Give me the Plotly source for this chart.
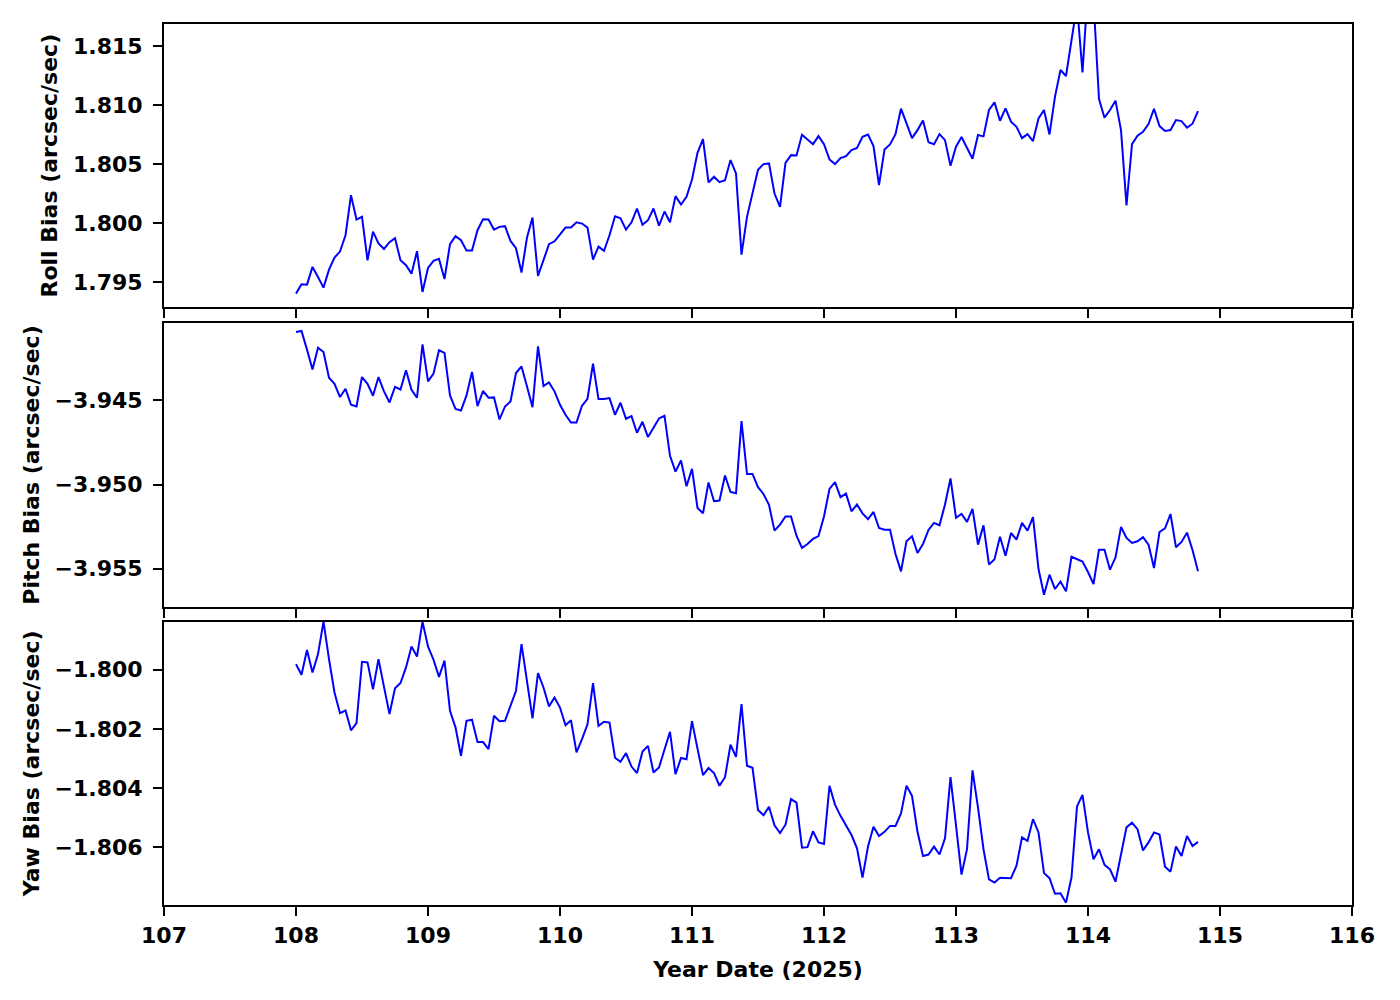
import plotly.graph_objects as go
from plotly.subplots import make_subplots

# Sampling: hourly values starting at day 108.0 (Year Date 2025)
start_day = 108.0
samples_per_day = 24

roll_bias = [
    1.79404, 1.79483, 1.79480, 1.79630, 1.79545, 1.79455, 1.79607, 1.79709, 1.79760, 1.79898,
    1.80237, 1.80031, 1.80054, 1.79686, 1.79929, 1.79828, 1.79782, 1.79839, 1.79873, 1.79686,
    1.79644, 1.79573, 1.79763, 1.79418, 1.79621, 1.79681, 1.79698, 1.79528, 1.79822, 1.79890,
    1.79856, 1.79768, 1.79768, 1.79941, 1.80034, 1.80031, 1.79946, 1.79969, 1.79975, 1.79850,
    1.79788, 1.79582, 1.79879, 1.80048, 1.79554, 1.79692, 1.79822, 1.79847, 1.79910, 1.79963,
    1.79963, 1.80008, 1.79997, 1.79963, 1.79692, 1.79802, 1.79766, 1.79898, 1.80059, 1.80042,
    1.79946, 1.80008, 1.80124,
    1.79986, 1.80025, 1.80124, 1.79980, 1.80099, 1.80008, 1.80229, 1.80158, 1.80223, 1.80370,
    1.80596, 1.80712, 1.80345, 1.80393, 1.80347, 1.80364, 1.80534, 1.80421, 1.79734, 1.80054,
    1.80266, 1.80452, 1.80500, 1.80506, 1.80251, 1.80138, 1.80511, 1.80576, 1.80573, 1.80749,
    1.80709, 1.80669, 1.80737, 1.80669, 1.80540, 1.80500, 1.80551, 1.80568, 1.80619, 1.80636,
    1.80732, 1.80751, 1.80653, 1.80322, 1.80624, 1.80667, 1.80754, 1.80969, 1.80845, 1.80720,
    1.80788, 1.80870, 1.80686, 1.80669, 1.80754, 1.80703, 1.80486, 1.80647, 1.80729, 1.80636,
    1.80545, 1.80746,
    1.80735, 1.80958, 1.81023, 1.80867, 1.80972, 1.80859, 1.80816, 1.80720, 1.80754, 1.80695,
    1.80887, 1.80958, 1.80751, 1.81071, 1.81297, 1.81246, 1.81551, 1.81850, 1.81277, 1.82000,
    1.81890, 1.81051, 1.80893, 1.80958, 1.81037, 1.80788, 1.80150, 1.80669, 1.80740, 1.80774,
    1.80839, 1.80969, 1.80822, 1.80780, 1.80788, 1.80873, 1.80864, 1.80808, 1.80842, 1.80949,
]

pitch_bias = [
    -3.94093, -3.94087, -3.94198, -3.94316, -3.94187, -3.94212, -3.94365, -3.94401, -3.94480, -3.94431,
    -3.94526, -3.94536, -3.94361, -3.94401, -3.94472, -3.94361, -3.94446, -3.94512, -3.94419, -3.94435,
    -3.94321, -3.94437, -3.94484, -3.94167, -3.94387, -3.94341, -3.94202, -3.94218, -3.94470, -3.94550,
    -3.94560, -3.94470, -3.94331, -3.94534, -3.94444, -3.94484, -3.94482, -3.94613, -3.94536, -3.94506,
    -3.94337, -3.94298, -3.94417, -3.94540, -3.94179, -3.94415, -3.94393, -3.94446, -3.94526, -3.94585,
    -3.94631, -3.94631, -3.94532, -3.94490, -3.94282, -3.94492, -3.94492, -3.94486, -3.94585, -3.94514,
    -3.94609, -3.94593, -3.94692,
    -3.94627, -3.94718, -3.94663, -3.94607, -3.94591, -3.94829, -3.94923, -3.94857, -3.95010, -3.94907,
    -3.95139, -3.95171, -3.94988, -3.95099, -3.95095, -3.94946, -3.95044, -3.95052, -3.94623, -3.94937,
    -3.94937, -3.95016, -3.95056, -3.95121, -3.95274, -3.95238, -3.95190, -3.95190, -3.95304, -3.95377,
    -3.95353, -3.95323, -3.95306, -3.95190, -3.95026, -3.94986, -3.95075, -3.95054, -3.95159, -3.95119,
    -3.95171, -3.95206, -3.95163, -3.95258, -3.95268, -3.95268, -3.95413, -3.95516, -3.95337, -3.95308,
    -3.95407, -3.95353, -3.95270, -3.95228, -3.95242, -3.95119, -3.94964, -3.95198, -3.95175, -3.95222,
    -3.95145, -3.95357,
    -3.95242, -3.95476, -3.95444, -3.95310, -3.95423, -3.95288, -3.95327, -3.95228, -3.95274, -3.95194,
    -3.95502, -3.95655, -3.95536, -3.95621, -3.95577, -3.95635, -3.95429, -3.95442, -3.95458, -3.95520,
    -3.95591, -3.95387, -3.95387, -3.95506, -3.95433, -3.95252, -3.95317, -3.95347, -3.95337, -3.95313,
    -3.95357, -3.95496, -3.95282, -3.95260, -3.95175, -3.95373, -3.95341, -3.95286, -3.95389, -3.95516,
]

yaw_bias = [
    -1.79981, -1.80017, -1.79933, -1.80009, -1.79947, -1.79837, -1.79964, -1.80077, -1.80147, -1.80138,
    -1.80205, -1.80181, -1.79973, -1.79975, -1.80066, -1.79964, -1.80058, -1.80150, -1.80063, -1.80045,
    -1.79992, -1.79921, -1.79955, -1.79837, -1.79921, -1.79966, -1.80024, -1.79969, -1.80139, -1.80195,
    -1.80292, -1.80173, -1.80169, -1.80245, -1.80245, -1.80269, -1.80156, -1.80174, -1.80173, -1.80120,
    -1.80071, -1.79913, -1.80037, -1.80165, -1.80011, -1.80060, -1.80124, -1.80094, -1.80128, -1.80188,
    -1.80171, -1.80280, -1.80235, -1.80185, -1.80045, -1.80190, -1.80176, -1.80179, -1.80298, -1.80312,
    -1.80282, -1.80328, -1.80350,
    -1.80277, -1.80258, -1.80348, -1.80331, -1.80269, -1.80210, -1.80354, -1.80299, -1.80303, -1.80174,
    -1.80267, -1.80357, -1.80333, -1.80350, -1.80393, -1.80364, -1.80254, -1.80295, -1.80116, -1.80325,
    -1.80332, -1.80475, -1.80493, -1.80464, -1.80527, -1.80553, -1.80525, -1.80438, -1.80450, -1.80603,
    -1.80601, -1.80547, -1.80585, -1.80590, -1.80393, -1.80457, -1.80495, -1.80527, -1.80560, -1.80605,
    -1.80704, -1.80599, -1.80532, -1.80563, -1.80549, -1.80529, -1.80529, -1.80487, -1.80393, -1.80427,
    -1.80549, -1.80631, -1.80626, -1.80599, -1.80626, -1.80571, -1.80364, -1.80527, -1.80694, -1.80608,
    -1.80341, -1.80467,
    -1.80608, -1.80710, -1.80721, -1.80705, -1.80706, -1.80706, -1.80664, -1.80568, -1.80580, -1.80506,
    -1.80551, -1.80689, -1.80706, -1.80759, -1.80757, -1.80789, -1.80704, -1.80463, -1.80424, -1.80551,
    -1.80642, -1.80608, -1.80661, -1.80676, -1.80718, -1.80621, -1.80534, -1.80518, -1.80540, -1.80612,
    -1.80585, -1.80551, -1.80558, -1.80667, -1.80684, -1.80599, -1.80631, -1.80563, -1.80597, -1.80583,
]

x_ticks = [107, 108, 109, 110, 111, 112, 113, 114, 115, 116]
roll_ticks = [1.795, 1.800, 1.805, 1.810, 1.815]
pitch_ticks = [-3.955, -3.950, -3.945]
yaw_ticks = [-1.806, -1.804, -1.802, -1.800]

y_titles = ["Roll Bias (arcsec/sec)", "Pitch Bias (arcsec/sec)", "Yaw Bias (arcsec/sec)"]
x_title = "Year Date (2025)"

day = [start_day + i / samples_per_day for i in range(len(roll_bias))]

fig = make_subplots(rows=3, cols=1, shared_xaxes=True)

series = [roll_bias, pitch_bias, yaw_bias]
for r, vals in enumerate(series, start=1):
    fig.add_trace(
        go.Scatter(x=day, y=vals, mode="lines",
                   line=dict(color="#0000ff", width=2), showlegend=False),
        row=r, col=1,
    )

font_main = dict(family="DejaVu Sans", size=22, color="black", weight="bold")

axis_common = dict(
    showline=True, linecolor="black", linewidth=2, mirror=True,
    ticks="outside", ticklen=9, tickwidth=2, tickcolor="black",
    showgrid=False, zeroline=False,
    tickfont=font_main,
)

domains = [[0.6784, 1.0], [0.3386, 0.6602], [0.0, 0.3216]]
ranges = [[1.79288, 1.81686], [-3.95726, -3.94042], [-1.80797, -1.79837]]
tickss = [roll_ticks, pitch_ticks, yaw_ticks]

for i in range(3):
    xa = "xaxis" if i == 0 else f"xaxis{i+1}"
    ya = "yaxis" if i == 0 else f"yaxis{i+1}"
    fig.layout[xa].update(
        range=[107, 116], tickvals=x_ticks, ticktext=[str(t) for t in x_ticks],
        showticklabels=(i == 2), ticklabelstandoff=1, **axis_common,
    )
    fig.layout[ya].update(
        domain=domains[i], range=ranges[i], tickvals=tickss[i], tickformat=".3f",
        ticklabelstandoff=6,
        title=dict(text=y_titles[i], font=font_main, standoff=9),
        **axis_common,
    )

fig.layout.xaxis3.update(title=dict(text=x_title, font=font_main, standoff=14))

fig.update_layout(
    width=1400, height=1000, autosize=False,
    margin=dict(l=156, r=56, t=16, b=103),
    paper_bgcolor="white", plot_bgcolor="white",
    font=font_main,
)

fig.write_html("out.html")
